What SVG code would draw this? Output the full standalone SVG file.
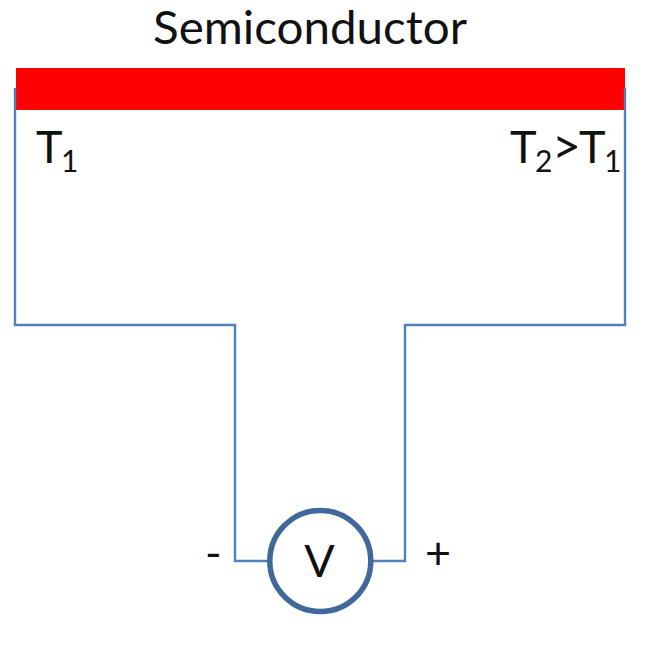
<svg xmlns="http://www.w3.org/2000/svg" width="664" height="649" viewBox="0 0 664 649">
<style>
.w{fill:none;stroke:#4f81bd;stroke-width:2.4}
.t{font-family:Lato,"Open Sans",sans-serif;fill:#111;font-size:45px}
.s{font-size:30px}
</style>
<rect width="664" height="649" fill="#fff"/>
<g id="semiconductor"><rect x="16" y="68" width="609" height="42" fill="#f00"/>
<text class="t" x="153" y="44" textLength="314" lengthAdjust="spacingAndGlyphs" style="font-size:46px">Semiconductor</text></g>
<g id="connectors">
<path class="w" d="M15 88V325H235V561H270"/>
<path class="w" d="M625 88V325H405V561H371"/>
</g>
<g id="t1"><text class="t" x="36" y="163">T</text><text class="t s" x="61" y="172">1</text></g>
<g id="t2"><text class="t" x="510" y="163">T</text><text class="t s" x="535" y="172">2</text><text class="t" x="552" y="164" style="font-size:50px">&gt;</text><text class="t" x="579" y="163">T</text><text class="t s" x="604" y="172">1</text></g>
<g id="voltmeter"><circle cx="320.300" cy="561" r="50.500" fill="#fff" stroke="#41689a" stroke-width="5.500"/>
<text class="t" x="319.500" y="577" text-anchor="middle">V</text></g>
<g id="minus"><text class="t" x="205" y="569">-</text></g>
<g id="plus"><text class="t" x="425" y="569">+</text></g>
</svg>
